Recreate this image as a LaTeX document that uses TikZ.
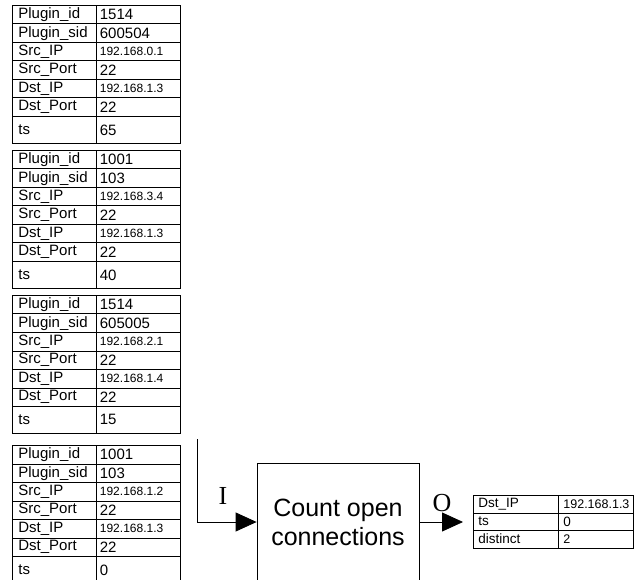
\documentclass[tikz,border=0pt]{standalone}
\usepackage{fontspec}
\setmainfont{Liberation Sans}
\newfontfamily\ioserif{Liberation Serif}
\usetikzlibrary{arrows.meta}

\begin{document}
\begin{tikzpicture}[x=1pt, y=-1pt,
    cell/.style={draw, line width=0.8pt, rectangle, anchor=north west, inner ysep=0pt, align=left},
    keycell/.style={cell, text width=72pt, inner xsep=6pt, minimum height=18.5pt, font=\fontsize{15}{17}\selectfont},
    valcell/.style={cell, text width=77pt, inner xsep=3.5pt, minimum height=18.5pt, font=\fontsize{15}{17}\selectfont},
    ipcell/.style={valcell, font=\fontsize{12}{14}\selectfont},
    outkey/.style={cell, text width=75pt, inner xsep=5pt, minimum height=17.5pt, font=\fontsize{13.5}{15}\selectfont},
    outval/.style={cell, text width=65pt, inner xsep=5pt, minimum height=17.5pt, font=\fontsize{12.5}{14}\selectfont},
    iolabel/.style={font=\ioserif\fontsize{26}{28}\selectfont, inner sep=0pt},
    flow/.style={line width=0.8pt, -{Triangle[length=21pt, width=19pt]}}]

    \useasboundingbox (0,0) rectangle (635,580);

    % input records
    \foreach \n/\top/\pid/\psid/\sip/\dip/\tsv in {1/5/1514/600504/192.168.0.1/192.168.1.3/65,
                                                   2/150/1001/103/192.168.3.4/192.168.1.3/40,
                                                   3/295/1514/605005/192.168.2.1/192.168.1.4/15,
                                                   4/445/1001/103/192.168.1.2/192.168.1.3/0} {
        \node [keycell] (k\n-1) at (12,\top) {Plugin\_id};
        \node [valcell] (v\n-1) at (96,\top) {\pid};
        \node [keycell] (k\n-2) at (12,\top+18.5) {Plugin\_sid};
        \node [valcell] (v\n-2) at (96,\top+18.5) {\psid};
        \node [keycell] (k\n-3) at (12,\top+37) {Src\_IP};
        \node [ipcell]  (v\n-3) at (96,\top+37) {\sip};
        \node [keycell] (k\n-4) at (12,\top+55.5) {Src\_Port};
        \node [valcell] (v\n-4) at (96,\top+55.5) {22};
        \node [keycell] (k\n-5) at (12,\top+74) {Dst\_IP};
        \node [ipcell]  (v\n-5) at (96,\top+74) {\dip};
        \node [keycell] (k\n-6) at (12,\top+92.5) {Dst\_Port};
        \node [valcell] (v\n-6) at (96,\top+92.5) {22};
        \node [keycell, minimum height=27pt] (k\n-7) at (12,\top+111) {ts};
        \node [valcell, minimum height=27pt] (v\n-7) at (96,\top+111) {\tsv};
    }

    % operator
    \node [draw, line width=0.8pt, minimum width=162pt, minimum height=118pt, align=center,
           font=\fontsize{25}{29}\selectfont] (count) at (338,522) {Count open\\connections};

    % output record
    \node [outkey] (ok1) at (473,495) {Dst\_IP};
    \node [outval] (ov1) at (558,495) {192.168.1.3};
    \node [outkey] (ok2) at (473,512.5) {ts};
    \node [outval, font=\fontsize{13.5}{15}\selectfont] (ov2) at (558,512.5) {0};
    \node [outkey] (ok3) at (473,530) {distinct};
    \node [outval] (ov3) at (558,530) {2};

    \coordinate (src) at (197,439);
    \node [iolabel] (ilabel) at (223,496) {I};
    \node [iolabel] (olabel) at (442,503) {O};

    \draw [flow] (src) |- (count.west);
    \draw [flow, shorten >=10pt] (count.east) -- (count.east -| ok2.west);
\end{tikzpicture}
\end{document}
